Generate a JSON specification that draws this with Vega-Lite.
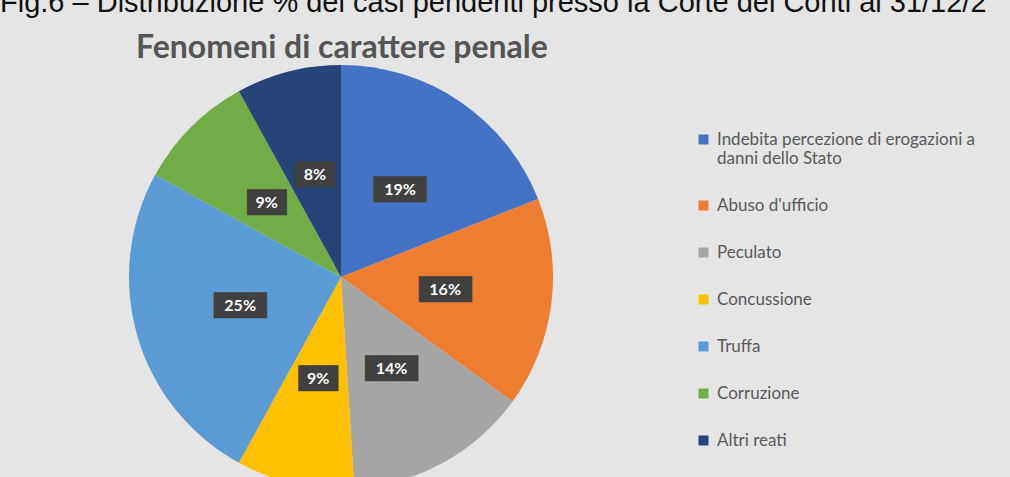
{
  "$schema": "https://vega.github.io/schema/vega-lite/v6.json",
  "width": 682,
  "height": 400,
  "autosize": {"type": "none"},
  "padding": {"left": 0, "top": 77, "right": 328, "bottom": 0},
  "background": "#e5e5e5",
  "title": {
    "text": "Fig.6 – Distribuzione % dei casi pendenti presso la Corte dei Conti al 31/12/2",
    "subtitle": "Fenomeni di carattere penale",
    "anchor": "start",
    "frame": "group",
    "font": "Liberation Sans",
    "fontSize": 29,
    "fontWeight": "normal",
    "color": "#111111",
    "subtitleFont": "Lato",
    "subtitleFontSize": 32,
    "subtitleFontWeight": "bold",
    "subtitleColor": "#555555",
    "subtitlePadding": 15,
    "offset": 1,
    "encode": {"subtitle": {"update": {"dx": {"value": 136}}}}
  },
  "data": {
    "values": [
      {"categoria": "Indebita percezione di erogazioni a danni dello Stato", "quota": 0.19, "rank": 1},
      {"categoria": "Abuso d'ufficio", "quota": 0.16, "rank": 2},
      {"categoria": "Peculato", "quota": 0.14, "rank": 3},
      {"categoria": "Concussione", "quota": 0.09, "rank": 4},
      {"categoria": "Truffa", "quota": 0.25, "rank": 5},
      {"categoria": "Corruzione", "quota": 0.09, "rank": 6},
      {"categoria": "Altri reati", "quota": 0.08, "rank": 7}
    ]
  },
  "encoding": {
    "theta": {"field": "quota", "type": "quantitative", "stack": true},
    "order": {"field": "rank", "type": "quantitative"}
  },
  "layer": [
    {
      "mark": {"type": "arc", "outerRadius": 212, "stroke": null},
      "encoding": {
        "color": {
          "field": "categoria",
          "type": "nominal",
          "scale": {
            "domain": ["Indebita percezione di erogazioni a danni dello Stato", "Abuso d'ufficio", "Peculato", "Concussione", "Truffa", "Corruzione", "Altri reati"],
            "range": ["#4472C4", "#ED7D31", "#A5A5A5", "#FFC000", "#5B9BD5", "#70AD47", "#264478"]
          },
          "legend": {
            "orient": "none",
            "legendX": 695,
            "legendY": 54,
            "title": null,
            "symbolType": "square",
            "symbolSize": 100,
            "symbolStrokeWidth": 0,
            "labelFont": "Lato",
            "labelFontSize": 17,
            "labelColor": "#595959",
            "labelLimit": 400,
            "labelOffset": 5,
            "rowPadding": 29,
            "labelExpr": "datum.label == 'Indebita percezione di erogazioni a danni dello Stato' ? ['Indebita percezione di erogazioni a', 'danni dello Stato'] : datum.label"
          }
        }
      }
    },
    {
      "mark": {"type": "text", "radius": 105, "font": "DejaVu Sans Mono", "fontSize": 22, "color": "#404040", "align": "center", "baseline": "middle"},
      "encoding": {
        "text": {"condition": {"test": "datum.quota < 0.1", "value": "███"}, "value": "████"}
      }
    },
    {
      "mark": {"type": "text", "radius": 105, "font": "Lato", "fontSize": 16, "fontWeight": "bold", "color": "#ffffff", "align": "center", "baseline": "middle"},
      "encoding": {
        "text": {"field": "quota", "type": "quantitative", "format": ".0%"}
      }
    }
  ],
  "config": {"view": {"stroke": null}}
}
